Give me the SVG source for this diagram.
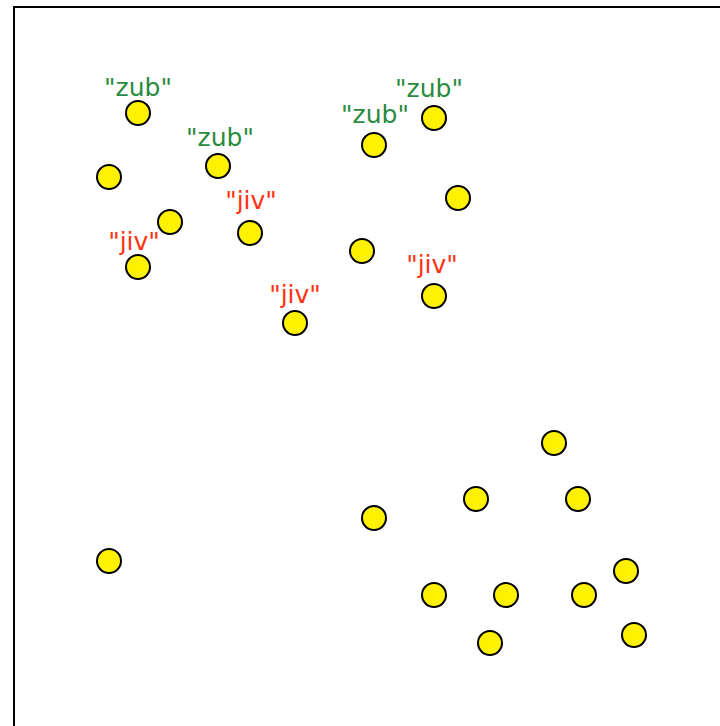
<svg xmlns="http://www.w3.org/2000/svg" width="720" height="726" viewBox="0 0 720 726">
<style>
.n{fill:#fff200;stroke:#000;stroke-width:2}
.t{font-family:"DejaVu Sans",sans-serif;font-size:25px;text-anchor:middle}
.g{fill:#2a8a3e}
.r{fill:#ff3311}
</style>
<rect x="0" y="0" width="720" height="726" fill="#fff"/>
<rect x="14" y="7" width="720" height="740" fill="none" stroke="#000" stroke-width="2"/>
<g id="connectors"/>
<g id="n1"><circle class="n" cx="138" cy="113" r="12"/><text class="t g" x="138" y="96">"zub"</text></g>
<g id="n2"><circle class="n" cx="218" cy="166" r="12"/><text class="t g" x="220" y="146">"zub"</text></g>
<g id="n3"><circle class="n" cx="374" cy="145" r="12"/><text class="t g" x="375" y="123">"zub"</text></g>
<g id="n4"><circle class="n" cx="434" cy="118" r="12"/><text class="t g" x="429" y="97">"zub"</text></g>
<g id="n5"><circle class="n" cx="250" cy="233" r="12"/><text class="t r" x="251" y="209">"jiv"</text></g>
<g id="n6"><circle class="n" cx="138" cy="267" r="12"/><text class="t r" x="134" y="250">"jiv"</text></g>
<g id="n7"><circle class="n" cx="295" cy="323" r="12"/><text class="t r" x="295" y="303">"jiv"</text></g>
<g id="n8"><circle class="n" cx="434" cy="296" r="12"/><text class="t r" x="432" y="273">"jiv"</text></g>
<g id="n9"><circle class="n" cx="109" cy="177" r="12"/></g>
<g id="n10"><circle class="n" cx="170" cy="222" r="12"/></g>
<g id="n11"><circle class="n" cx="458" cy="198" r="12"/></g>
<g id="n12"><circle class="n" cx="362" cy="251" r="12"/></g>
<g id="n13"><circle class="n" cx="554" cy="443" r="12"/></g>
<g id="n14"><circle class="n" cx="476" cy="499" r="12"/></g>
<g id="n15"><circle class="n" cx="578" cy="499" r="12"/></g>
<g id="n16"><circle class="n" cx="374" cy="518" r="12"/></g>
<g id="n17"><circle class="n" cx="626" cy="571" r="12"/></g>
<g id="n18"><circle class="n" cx="434" cy="595" r="12"/></g>
<g id="n19"><circle class="n" cx="506" cy="595" r="12"/></g>
<g id="n20"><circle class="n" cx="584" cy="595" r="12"/></g>
<g id="n21"><circle class="n" cx="490" cy="643" r="12"/></g>
<g id="n22"><circle class="n" cx="634" cy="635" r="12"/></g>
<g id="n23"><circle class="n" cx="109" cy="561" r="12"/></g>
</svg>
